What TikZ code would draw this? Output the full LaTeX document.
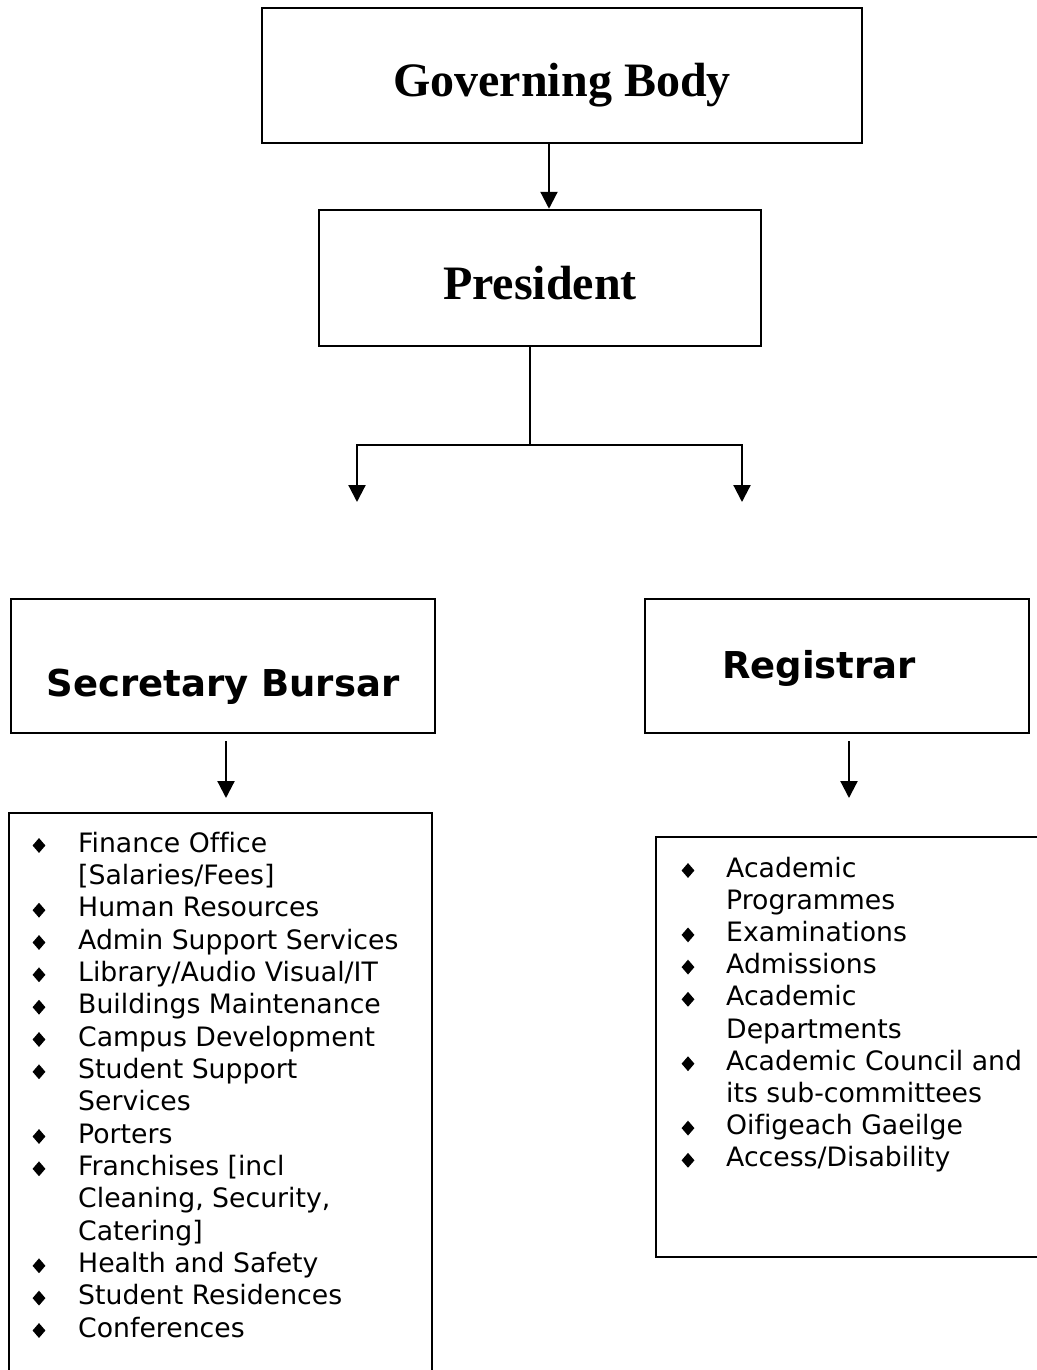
\documentclass[tikz,border=0pt]{standalone}
\usepackage{fontspec}
\newfontfamily\tnr{Liberation Serif}
\newfontfamily\vera{DejaVu Sans}[Ligatures=NoCommon]
\usetikzlibrary{arrows.meta,shapes.geometric}
\begin{document}
\begin{tikzpicture}[x=1pt,y=-1pt,
  box/.style={draw, line width=2.5pt, inner sep=0pt},
  conn/.style={line width=2.2pt},
  arr/.style={conn, -{Triangle[width=17pt,length=17pt]}},
  head/.style={font=\tnr\bfseries\fontsize{48}{52}\selectfont, anchor=base, inner sep=0pt},
  sub/.style={font=\vera\bfseries\fontsize{37}{40}\selectfont, anchor=base, inner sep=0pt},
  item/.style={font=\vera\fontsize{26.7}{30}\selectfont, anchor=base west, inner sep=0pt},
  bul/.style={diamond, fill=black, inner sep=0pt, minimum width=13pt, minimum height=15pt}]
\useasboundingbox (0,0) rectangle (1036,1370);
\fill[white] (0,0) rectangle (1036,1370);

% boxes
\node[box, minimum width=600pt, minimum height=135pt] (gb) at (562,75.5) {};
\node[box, minimum width=442pt, minimum height=136pt] (pres) at (540,278) {};
\node[box, minimum width=424pt, minimum height=134pt] (sb) at (223,666) {};
\node[box, minimum width=384pt, minimum height=134pt] (reg) at (837,666) {};
\node[box, minimum width=423pt, minimum height=567pt] (sbl) at (220.5,1096.5) {};
\node[box, minimum width=389pt, minimum height=420pt] (regl) at (850.5,1047) {};

% titles
\node[head] (gbt) at (562,97) {Governing Body};
\node[head] (prest) at (540,299) {President};
\node[sub] (sbt) at (223,696) {Secretary Bursar};
\node[sub] (regt) at (819,678) {Registrar};

% connectors
\coordinate (c1) at (549,0);
\coordinate (jn) at (530,445);
\coordinate (tl) at (357,502);
\coordinate (tr) at (742,502);
\coordinate (sbs) at (226,741);
\coordinate (sbe) at (226,798);
\coordinate (rgs) at (849,741);
\coordinate (rge) at (849,798);
\draw[arr] (gb.south -| c1) -- (pres.north -| c1);
\draw[conn] (pres.south -| jn) -- (jn);
\draw[arr] (jn) -| (tl);
\draw[arr] (jn) -| (tr);
\draw[arr] (sbs) -- (sbe);
\draw[arr] (rgs) -- (rge);

% left list
\node[bul] (lb0) at (39,845.5) {};
\node[item] (l0) at (78,852) {Finance Office};
\node[item] (l1) at (78,884.3) {[Salaries/Fees]};
\node[bul] (lb2) at (39,910.2) {};
\node[item] (l2) at (78,916.7) {Human Resources};
\node[bul] (lb3) at (39,942.5) {};
\node[item] (l3) at (78,949) {Admin Support Services};
\node[bul] (lb4) at (39,974.8) {};
\node[item] (l4) at (78,981.3) {Library/Audio Visual/IT};
\node[bul] (lb5) at (39,1007.2) {};
\node[item] (l5) at (78,1013.7) {Buildings Maintenance};
\node[bul] (lb6) at (39,1039.5) {};
\node[item] (l6) at (78,1046) {Campus Development};
\node[bul] (lb7) at (39,1071.8) {};
\node[item] (l7) at (78,1078.3) {Student Support};
\node[item] (l8) at (78,1110.6) {Services};
\node[bul] (lb9) at (39,1136.5) {};
\node[item] (l9) at (78,1143) {Porters};
\node[bul] (lb10) at (39,1168.8) {};
\node[item] (l10) at (78,1175.3) {Franchises [incl};
\node[item] (l11) at (78,1207.6) {Cleaning, Security,};
\node[item] (l12) at (78,1240) {Catering]};
\node[bul] (lb13) at (39,1265.8) {};
\node[item] (l13) at (78,1272.3) {Health and Safety};
\node[bul] (lb14) at (39,1298.1) {};
\node[item] (l14) at (78,1304.6) {Student Residences};
\node[bul] (lb15) at (39,1330.5) {};
\node[item] (l15) at (78,1337) {Conferences};

% right list
\node[bul] (rb0) at (688,870.5) {};
\node[item] (r0) at (726,877) {Academic};
\node[item] (r1) at (726,909.2) {Programmes};
\node[bul] (rb2) at (688,934.9) {};
\node[item] (r2) at (726,941.4) {Examinations};
\node[bul] (rb3) at (688,967.1) {};
\node[item] (r3) at (726,973.6) {Admissions};
\node[bul] (rb4) at (688,999.3) {};
\node[item] (r4) at (726,1005.8) {Academic};
\node[item] (r5) at (726,1038) {Departments};
\node[bul] (rb6) at (688,1063.7) {};
\node[item] (r6) at (726,1070.2) {Academic Council and};
\node[item] (r7) at (726,1102.4) {its sub-committees};
\node[bul] (rb8) at (688,1128.1) {};
\node[item] (r8) at (726,1134.6) {Oifigeach Gaeilge};
\node[bul] (rb9) at (688,1160.3) {};
\node[item] (r9) at (726,1166.8) {Access/Disability};
\end{tikzpicture}
\end{document}
